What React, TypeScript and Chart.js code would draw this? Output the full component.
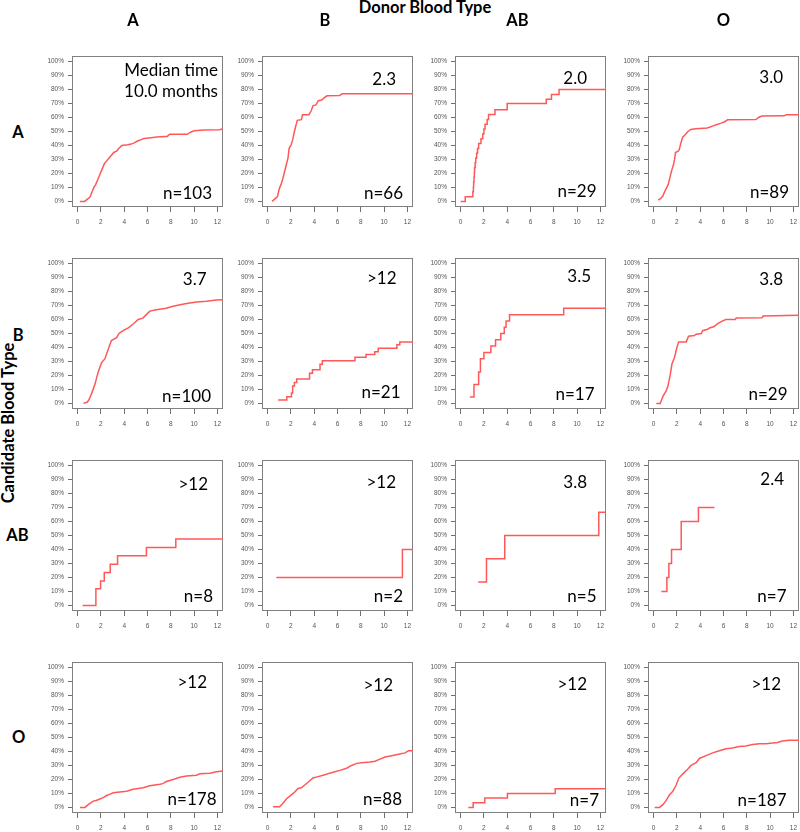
import React, { useEffect, useRef } from 'react';
import { Chart, registerables } from 'chart.js';

Chart.register(...registerables);

// ---------- categories & labels ----------
const DONOR_TYPES = ['A', 'B', 'AB', 'O'];
const CANDIDATE_TYPES = ['A', 'B', 'AB', 'O'];
const X_TICKS = [0, 2, 4, 6, 8, 10, 12];
const Y_TICKS = [0, 10, 20, 30, 40, 50, 60, 70, 80, 90, 100];
const MEDIAN_LABELS = [
  ['Median time\n10.0 months', '2.3', '2.0', '3.0'],
  ['3.7', '>12', '3.5', '3.8'],
  ['>12', '>12', '3.8', '2.4'],
  ['>12', '>12', '>12', '>12'],
];
const N_VALUES = [
  [103, 66, 29, 89],
  [100, 21, 17, 29],
  [8, 2, 5, 7],
  [178, 88, 7, 187],
];

// ---------- curves: [months, cumulative %] (row = candidate, col = donor) ----------
const CURVE_A_A: [number, number][] = [[0.2,0],[0.6,0],[0.9,2],[1.05,3],[1.15,5],[1.3,8],[1.4,10],[1.55,12],[1.7,15],[1.85,18],[2.0,21],[2.15,24],[2.3,27],[2.5,29],[2.7,31],[2.9,33],[3.1,35],[3.35,36],[3.55,38],[3.8,40],[4.3,40.5],[4.6,41],[4.9,42],[5.1,43],[5.4,44],[5.7,45],[6.3,45.5],[6.8,46],[7.5,46.5],[7.7,46.5],[7.9,48],[9.4,48],[9.7,49.5],[10.0,50.5],[10.8,51],[12.2,51.2],[12.48,52]];
const CURVE_A_B: [number, number][] = [[0.4,0],[0.65,2],[0.85,3.5],[1.0,9],[1.15,12],[1.3,16],[1.45,21],[1.6,26],[1.75,31],[1.85,38],[2.0,40],[2.15,44],[2.3,50],[2.45,55],[2.55,58],[2.9,58.5],[3.0,62],[3.55,62],[3.75,65],[3.9,68.5],[4.15,69],[4.35,72],[4.65,72.5],[4.85,74],[5.1,75.5],[6.2,75.8],[6.4,77],[12.48,77]];
const CURVE_A_AB: [number, number][] = [[0,0],[0.4,3.4],[1.05,6.9],[1.1,10.3],[1.12,13.8],[1.15,17.2],[1.18,20.7],[1.2,24.1],[1.25,27.6],[1.3,31],[1.38,34.5],[1.45,37.9],[1.55,41.4],[1.75,44.8],[1.9,48.3],[2.0,51.7],[2.1,55.2],[2.28,58.6],[2.4,62.1],[2.95,65.5],[4.0,70],[7.35,73],[7.8,76.5],[8.45,80],[12.48,80]];
const CURVE_A_O: [number, number][] = [[0.4,1],[0.6,2],[0.8,4],[0.95,7],[1.1,9.5],[1.25,12],[1.4,17],[1.55,22],[1.7,26],[1.8,30],[1.88,35],[2.1,36],[2.2,37],[2.35,42],[2.5,46],[2.75,48],[2.95,50],[3.2,51.5],[3.6,52],[4.6,52.5],[4.85,53.2],[5.1,54],[5.45,55],[5.8,56],[6.1,57],[6.35,58.4],[8.8,58.6],[9.0,60],[9.3,61],[11.2,61.2],[11.4,62],[12.48,62]];

const CURVE_B_A: [number, number][] = [[0.5,0],[0.85,1],[1.0,3],[1.2,7],[1.5,14],[1.75,22],[2.05,29],[2.35,32],[2.6,38],[2.9,45],[3.35,47],[3.55,50],[3.9,52],[4.35,54],[4.8,57],[5.2,60],[5.6,61],[5.9,63.5],[6.2,66],[6.75,67],[7.6,68],[8.2,69.5],[8.8,70.5],[9.35,71.5],[10.2,72.5],[11.05,73],[11.9,74],[12.48,74.2]];
const CURVE_B_B: [number, number][] = [[0.9,2.4],[1.65,4.8],[2.05,7.5],[2.15,12.5],[2.3,15],[2.5,17.5],[3.6,21.5],[3.85,24],[4.5,28],[4.7,30.5],[7.5,33],[8.45,35],[9.2,37],[9.5,39.5],[11.1,42],[11.35,44],[12.48,44]];
const CURVE_B_AB: [number, number][] = [[0.8,4.5],[1.15,13.5],[1.55,22.5],[1.7,32],[2.0,36.5],[2.6,41],[3.0,45.5],[3.45,50],[3.75,54.5],[3.9,59],[4.2,63.5],[8.85,68],[12.48,68]];
const CURVE_B_O: [number, number][] = [[0.23,0],[0.57,0],[0.8,5],[1.08,9],[1.22,12],[1.42,20],[1.57,28],[1.8,33],[2.0,40],[2.15,44],[2.8,44],[3.0,48],[3.5,48.5],[3.65,49.5],[4.1,50],[4.2,52],[4.65,53],[4.8,54],[5.2,55],[5.5,57],[5.8,58.5],[6.2,60],[7.0,60],[7.1,61],[9.3,61.2],[9.4,62.5],[12.48,63]];

const CURVE_AB_A: [number, number][] = [[0.43,0],[1.57,12],[1.97,17.5],[2.29,23.5],[2.8,29.5],[3.43,35.5],[5.91,41.5],[8.43,47.5],[12.48,47.5]];
const CURVE_AB_B: [number, number][] = [[0.75,20],[11.57,40],[12.48,40]];
const CURVE_AB_AB: [number, number][] = [[1.51,16.7],[2.22,33.3],[3.79,50],[11.86,66.7],[12.48,66.7]];
const CURVE_AB_O: [number, number][] = [[0.66,10],[1.14,20],[1.31,30],[1.54,40],[2.37,60],[3.85,70],[5.22,70]];

const CURVE_O_A: [number, number][] = [[0.2,0],[0.63,0],[0.91,2],[1.34,4.5],[1.6,5],[1.91,6],[2.2,7],[2.49,8.5],[2.8,9.5],[3.06,10.5],[3.63,11],[4.2,11.5],[4.77,13],[5.63,14],[6.2,15.5],[7.06,16.5],[7.3,17],[7.63,18.5],[8.2,20],[8.77,21.5],[9.34,22.5],[10.2,23],[10.49,24],[11.34,24.5],[11.91,25.5],[12.48,26]];
const CURVE_O_B: [number, number][] = [[0.46,0.5],[1.03,0.5],[1.32,3],[1.61,6],[2.04,9],[2.33,11],[2.61,13.5],[2.9,14],[3.19,16],[3.47,18],[3.9,21],[4.34,22],[4.77,23],[5.34,24.5],[5.77,25.5],[6.2,26.5],[6.78,28],[7.21,30],[7.64,31.5],[8.07,32],[8.79,32.5],[9.22,33],[9.65,34.5],[10.08,36],[10.65,37],[11.23,38],[11.8,39],[12.09,40.5],[12.48,40.5]];
const CURVE_O_AB: [number, number][] = [[0.66,0],[1.08,3.3],[2.08,6.7],[4.02,10],[8.12,13.3],[12.48,13.3]];
const CURVE_O_O: [number, number][] = [[0.09,0],[0.51,0],[0.8,2],[1.08,5],[1.37,9],[1.65,11.5],[1.94,16],[2.17,21],[2.51,24],[2.94,27.5],[3.22,30],[3.65,32],[3.93,35],[4.5,37],[5.07,39],[5.64,40.5],[6.21,42],[6.78,42.5],[7.35,43.5],[7.92,44],[8.49,45],[9.07,45.5],[9.64,45.5],[10.21,46],[10.63,46.5],[11.06,47.5],[11.63,48],[12.48,48]];

const CURVES = [
  [CURVE_A_A, CURVE_A_B, CURVE_A_AB, CURVE_A_O],
  [CURVE_B_A, CURVE_B_B, CURVE_B_AB, CURVE_B_O],
  [CURVE_AB_A, CURVE_AB_B, CURVE_AB_AB, CURVE_AB_O],
  [CURVE_O_A, CURVE_O_B, CURVE_O_AB, CURVE_O_O],
];
const STEPPED = [
  [false, false, true, false],
  [false, true, true, false],
  [true, true, true, true],
  [false, false, true, false],
];

// ---------- layout / style ----------
const X_MIN = -0.48, X_MAX = 12.48, Y_MIN = -4, Y_MAX = 104;
const BOX = 151;
const COL_LEFT = [72, 262, 455, 648];
const ROW_TOP = [56, 258, 460, 662];
const AXIS_W = 40, AXIS_H = 22, PAD_T = 10, PAD_R = 8;
const LINE_COLOR = '#ff5858';
const TICK_FONT = "'Liberation Sans', Arial, sans-serif";
const TEXT_FONT = "Lato, 'Open Sans', sans-serif";
const NOTE_SIZE = 17;
const HEAD_SIZE = 16.5;
const MEDIAN_POS = [
  [[5, 20], [17, 29], [19, 28], [16, 27]],
  [[16.5, 27], [16.5, 26], [15, 24], [16, 27]],
  [[15, 30], [17, 28], [19, 28], [15, 25]],
  [[16, 26.5], [20, 29.5], [19, 28], [18, 28]],
];
const N_POS = [
  [[11, 8], [10, 8], [9.5, 10], [10, 9]],
  [[12, 7], [12.5, 10.5], [11.5, 9], [11.5, 9]],
  [[10, 9], [10, 9], [9.5, 9], [12.5, 9]],
  [[6.5, 8], [11, 8], [7, 7], [12.5, 6.5]],
];

const boxPlugin = {
  id: 'panelBox',
  beforeDatasetsDraw(chart: any) {
    const { ctx, chartArea } = chart;
    ctx.save();
    ctx.strokeStyle = '#808080';
    ctx.lineWidth = 1;
    ctx.strokeRect(Math.round(chartArea.left) + 0.5, Math.round(chartArea.top) + 0.5,
      Math.round(chartArea.right - chartArea.left) - 1, Math.round(chartArea.bottom - chartArea.top) - 1);
    ctx.restore();
  },
};

function Panel({ row, col }: { row: number; col: number }) {
  const ref = useRef<HTMLCanvasElement | null>(null);
  useEffect(() => {
    if (!ref.current) return;
    const pts = CURVES[row][col];
    const chart = new Chart(ref.current, {
      type: 'line',
      data: {
        datasets: [{
          data: pts.map(([x, y]) => ({ x, y })),
          borderColor: LINE_COLOR,
          borderWidth: 1.5,
          pointRadius: 0,
          tension: 0,
          fill: false,
          stepped: STEPPED[row][col] ? 'before' : false,
        }],
      },
      options: {
        animation: false,
        responsive: false,
        events: [],
        layout: { padding: { top: PAD_T, right: PAD_R, left: 0, bottom: 0 }, autoPadding: false },
        plugins: { legend: { display: false }, tooltip: { enabled: false }, title: { display: false } },
        scales: {
          x: {
            type: 'linear', min: X_MIN, max: X_MAX,
            afterBuildTicks: (s: any) => { s.ticks = X_TICKS.map((v) => ({ value: v })); },
            afterFit: (s: any) => { s.height = AXIS_H; },
            grid: { display: true, drawOnChartArea: false, drawTicks: true, tickLength: 5, color: '#707070' },
            border: { display: false },
            ticks: { font: { family: TICK_FONT, size: 6.5 }, color: '#555', padding: 6, maxRotation: 0, autoSkip: false,
              callback: (v: any) => String(v) },
          },
          y: {
            type: 'linear', min: Y_MIN, max: Y_MAX,
            afterBuildTicks: (s: any) => { s.ticks = Y_TICKS.map((v) => ({ value: v })); },
            afterFit: (s: any) => { s.width = AXIS_W; },
            grid: { display: true, drawOnChartArea: false, drawTicks: true, tickLength: 4, color: '#707070' },
            border: { display: false },
            ticks: { font: { family: TICK_FONT, size: 6.5 }, color: '#555', padding: 4, autoSkip: false,
              callback: (v: any) => `${v}%` },
          },
        },
      },
      plugins: [boxPlugin],
    } as any);
    return () => chart.destroy();
  }, [row, col]);
  const w = AXIS_W + BOX + PAD_R;
  const h = PAD_T + BOX + AXIS_H;
  return (
    <canvas ref={ref} width={w} height={h}
      style={{ position: 'absolute', left: COL_LEFT[col] - AXIS_W, top: ROW_TOP[row] - PAD_T, width: w, height: h }} />
  );
}

function Txt({ x, baseline, align, size, bold, children }: any) {
  const style: any = {
    position: 'absolute', top: baseline - 0.887 * size, lineHeight: `${size}px`, fontSize: size,
    fontFamily: TEXT_FONT, fontWeight: bold ? 700 : 400, color: '#000', whiteSpace: 'nowrap',
  };
  if (align === 'right') style.right = 800 - x;
  else { style.left = x; style.transform = 'translateX(-50%)'; }
  return <div style={style}>{children}</div>;
}

const COL_HEADER_X = [133, 325, 517.5, 723.5];
const ROW_LABEL_X = [18, 18.3, 17.5, 18.7];
const ROW_LABEL_BASE = [138.3, 341.7, 541.7, 743.5];

export default function App() {
  const panels: any[] = [];
  const notes: any[] = [];
  CANDIDATE_TYPES.forEach((_, r) => {
    DONOR_TYPES.forEach((__, c) => {
      panels.push(<Panel key={`p${r}${c}`} row={r} col={c} />);
      const right = COL_LEFT[c] + BOX;
      const lines = MEDIAN_LABELS[r][c].split('\n');
      const [mo, mb] = MEDIAN_POS[r][c];
      lines.forEach((ln, i) => {
        notes.push(<Txt key={`m${r}${c}${i}`} x={right - mo} baseline={ROW_TOP[r] + mb + i * 21} align="right" size={NOTE_SIZE}>{ln}</Txt>);
      });
      const [no, nb] = N_POS[r][c];
      notes.push(<Txt key={`n${r}${c}`} x={right - no} baseline={ROW_TOP[r] + BOX - nb} align="right" size={NOTE_SIZE}>{`n=${N_VALUES[r][c]}`}</Txt>);
    });
  });
  return (
    <div style={{ position: 'absolute', left: 0, top: 0, width: 800, height: 832, overflow: 'hidden', background: '#fff' }}>
      {panels}
      {notes}
      <Txt x={425} baseline={13.5} align="center" size={HEAD_SIZE} bold>Donor Blood Type</Txt>
      {DONOR_TYPES.map((d, i) => (
        <Txt key={`h${i}`} x={COL_HEADER_X[i]} baseline={26.7} align="center" size={HEAD_SIZE} bold>{d}</Txt>
      ))}
      {CANDIDATE_TYPES.map((d, i) => (
        <Txt key={`r${i}`} x={ROW_LABEL_X[i]} baseline={ROW_LABEL_BASE[i]} align="center" size={HEAD_SIZE} bold>{d}</Txt>
      ))}
      <div style={{
        position: 'absolute', left: 7.5, top: 423, transform: 'translate(-50%, -50%) rotate(-90deg)',
        fontFamily: TEXT_FONT, fontWeight: 700, fontSize: HEAD_SIZE, lineHeight: `${HEAD_SIZE}px`, whiteSpace: 'nowrap', color: '#000',
      }}>Candidate Blood Type</div>
    </div>
  );
}
